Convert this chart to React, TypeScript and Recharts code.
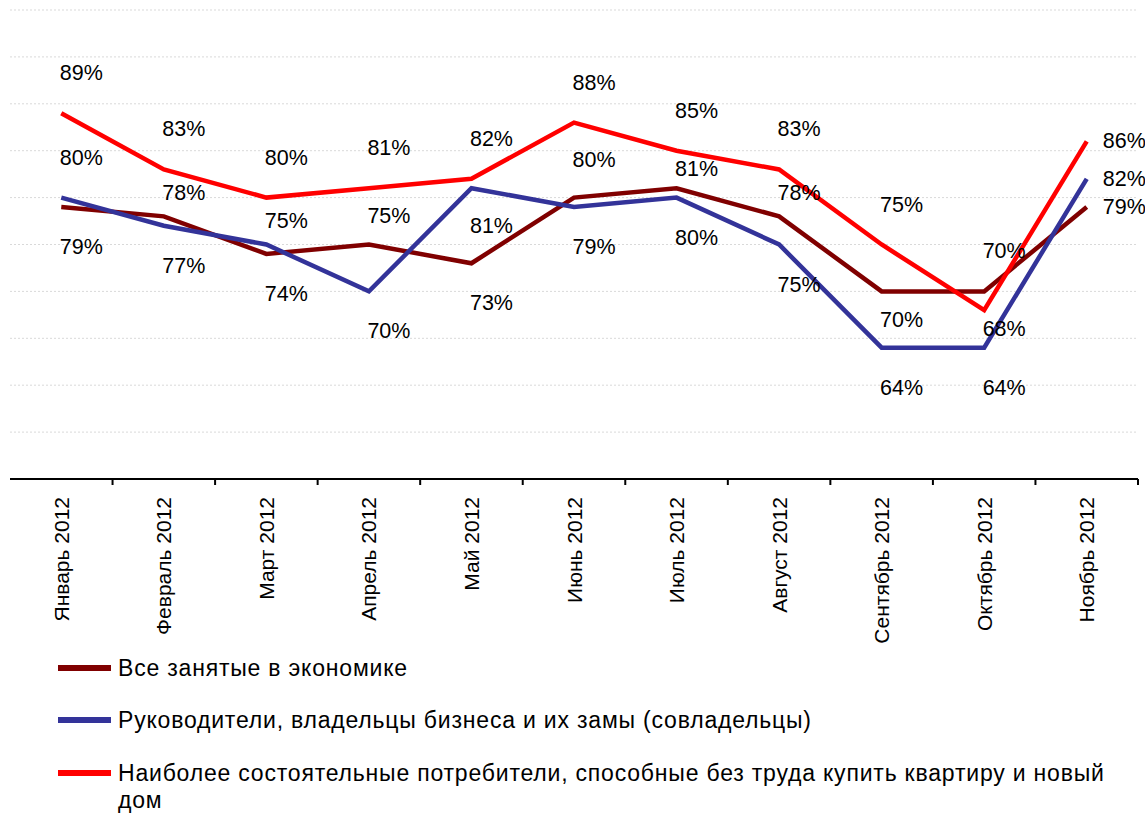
import { LineChart, Line, XAxis, YAxis, CartesianGrid, LabelList } from 'recharts';

const months = [
  'Январь 2012',
  'Февраль 2012',
  'Март 2012',
  'Апрель 2012',
  'Май 2012',
  'Июнь 2012',
  'Июль 2012',
  'Август 2012',
  'Сентябрь 2012',
  'Октябрь 2012',
  'Ноябрь 2012',
];

const allEmployed = [79, 78, 74, 75, 73, 80, 81, 78, 70, 70, 79];
const managers = [80, 77, 75, 70, 81, 79, 80, 75, 64, 64, 82];
const wealthy = [89, 83, 80, 81, 82, 88, 85, 83, 75, 68, 86];

const yTicks = [50, 55, 60, 65, 70, 75, 80, 85, 90, 95, 100];

const seriesNames = [
  'Все занятые в экономике',
  'Руководители, владельцы бизнеса и их замы (совладельцы)',
  'Наиболее состоятельные потребители, способные без труда купить квартиру и новый дом',
];
const seriesKeys = ['all', 'managers', 'wealthy'];
const seriesColors = ['#800000', '#333399', '#ff0000'];
const seriesValues = [allEmployed, managers, wealthy];

const data = months.map((month, i) => ({
  month,
  all: allEmployed[i],
  managers: managers[i],
  wealthy: wealthy[i],
}));

const FONT = '"Liberation Sans", Arial, sans-serif';
const W = 1145;
const H = 660;
const M = { top: 10, right: 7, left: 10, bottom: 0 };
const XAXIS_H = 181;
const PLOT_W = W - M.left - M.right;
const PLOT_H = H - M.top - M.bottom - XAXIS_H;
const HALF_BAND = PLOT_W / (months.length * 2);
const PX_PER_PCT = PLOT_H / (100 - 50);

// label goes on the side with more free room, nudged right like excel does
const makeLabel = (s: number) => (props: any) => {
  const { x, y, value, index } = props;
  if (x == null || y == null) return null;
  const style = { fontFamily: FONT, fontSize: 21.5, fill: '#000' };
  if (index === months.length - 1) {
    return (
      <text x={x + 16} y={y} dominantBaseline="central" textAnchor="start" {...style}>
        {value}%
      </text>
    );
  }
  const v = seriesValues[s][index];
  let gapUp = Infinity;
  let gapDown = Infinity;
  seriesValues.forEach((arr, j) => {
    if (j === s) return;
    const d = arr[index] - v;
    if (d > 0) gapUp = Math.min(gapUp, d);
    else gapDown = Math.min(gapDown, -d);
  });
  const up = gapUp > gapDown;
  const gap = up ? gapUp : gapDown;
  const off = Math.min(40, (gap * PX_PER_PCT) / 2);
  return (
    <text
      x={x + 20}
      y={up ? y - off : y + off}
      dominantBaseline="central"
      textAnchor="middle"
      {...style}
    >
      {value}%
    </text>
  );
};

const MonthTick = (props: any) => {
  const { x, y, payload } = props;
  return (
    <g>
      <line x1={x + HALF_BAND} y1={y} x2={x + HALF_BAND} y2={y + 6} stroke="#000" strokeWidth={2} />
      <text
        x={x}
        y={y + 18}
        transform={`rotate(-90 ${x} ${y + 18})`}
        textAnchor="end"
        dominantBaseline="central"
        fontFamily={FONT}
        fontSize={21}
        fill="#000"
      >
        {payload.value}
      </text>
    </g>
  );
};

const legendCenters = [668, 720, 773];

export default function App() {
  return (
    <div style={{ position: 'absolute', left: 0, top: 0, width: W, height: 814, background: '#fff' }}>
      <LineChart width={W} height={H} data={data} margin={M}>
        <CartesianGrid vertical={false} stroke="#d9d9d9" strokeDasharray="2 2" />
        <XAxis
          dataKey="month"
          height={XAXIS_H}
          padding={{ left: HALF_BAND, right: HALF_BAND }}
          interval={0}
          tickLine={false}
          tickSize={0}
          tickMargin={0}
          axisLine={{ stroke: '#000', strokeWidth: 2 }}
          tick={<MonthTick />}
        />
        <YAxis hide domain={[50, 100]} ticks={yTicks} />
        {seriesKeys.map((k, s) => (
          <Line
            key={k}
            dataKey={k}
            name={seriesNames[s]}
            type="linear"
            stroke={seriesColors[s]}
            strokeWidth={4.5}
            dot={false}
            activeDot={false}
            isAnimationActive={false}
          >
            <LabelList dataKey={k} content={makeLabel(s)} />
          </Line>
        ))}
      </LineChart>
      {seriesNames.map((name, s) => (
        <div
          key={name}
          style={{
            position: 'absolute',
            left: 58,
            top: legendCenters[s] - 13.5,
            display: 'flex',
            alignItems: 'flex-start',
            fontFamily: FONT,
            fontSize: 23,
            letterSpacing: 0.8,
            lineHeight: '27px',
            color: '#000',
          }}
        >
          <div style={{ width: 53, height: 6, marginTop: 10.5, marginRight: 7, background: seriesColors[s] }} />
          <div style={{ width: 1010 }}>{name}</div>
        </div>
      ))}
    </div>
  );
}
